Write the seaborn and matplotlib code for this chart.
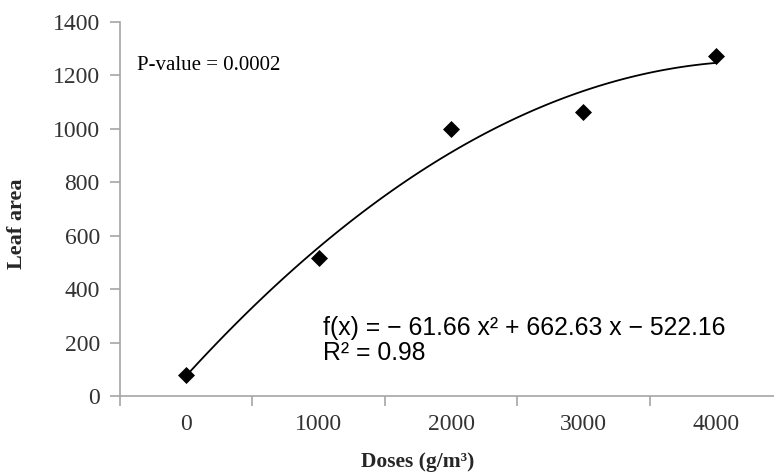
import numpy as np
import pandas as pd
import matplotlib
matplotlib.use("Agg")
import matplotlib.pyplot as plt
import seaborn as sns

# data
doses = ["0", "1000", "2000", "3000", "4000"]
position = [1, 2, 3, 4, 5]
leaf_area = [80, 518, 1000, 1062, 1272]
p_value_text = "P-value = 0.0002"
equation_text = "f(x) = \u2212 61.66 x\u00b2 + 662.63 x \u2212 522.16"
r2_text = "R\u00b2 = 0.98"

df = pd.DataFrame({"x": position, "area": leaf_area})

sns.set_style("white")
serif = ["Liberation Serif", "DejaVu Serif"]
sans = ["Liberation Sans", "DejaVu Sans"]
axis_grey = "#a6a6a6"

fig = plt.figure(figsize=(7.74, 4.75), dpi=100)
ax = fig.add_axes([120 / 774, 79 / 475, 662 / 774, 374 / 475])

# quadratic trend line
sns.regplot(data=df, x="x", y="area", order=2, ci=None, scatter=False,
            truncate=True, color="black", line_kws={"lw": 1.3}, ax=ax)
sns.scatterplot(data=df, x="x", y="area", marker="D", s=75, color="black",
                edgecolor="black", linewidth=0, zorder=3, ax=ax)

ax.set_xlim(0.5, 5.5)
ax.set_ylim(0, 1400)
ax.set_yticks(range(0, 1401, 200))
ax.set_xticks(position)
ax.set_xticklabels(doses)
ax.set_xticks([p - 0.5 for p in position] + [5.5], minor=True)

for s in ["top", "right"]:
    ax.spines[s].set_visible(False)
for s in ["left", "bottom"]:
    ax.spines[s].set_color(axis_grey)
    ax.spines[s].set_linewidth(1.2)

ax.tick_params(axis="y", which="major", left=True, length=7, width=1.2,
               color=axis_grey, pad=7.5, labelsize=17, labelcolor="#333333")
ax.tick_params(axis="x", which="major", bottom=False, length=0, pad=13,
               labelsize=17, labelcolor="#333333")
ax.tick_params(axis="x", which="minor", bottom=True, length=7, width=1.2,
               color=axis_grey)
for lab in ax.get_xticklabels() + ax.get_yticklabels():
    lab.set_family(serif)

ax.set_xlabel("Doses (g/m\u00b3)", family=serif, fontweight="bold", fontsize=15.5)
ax.set_ylabel("Leaf area", family=serif, fontweight="bold", fontsize=16)
ax.xaxis.set_label_coords(0.45, -0.15)
ax.yaxis.set_label_coords(-0.14, 0.46)

ax.text(0.63, 1239, p_value_text, family=serif, fontsize=15, va="center",
        ha="left", color="black")
ax.text(2.03, 256, equation_text, family=sans, fontsize=17.8, va="center",
        ha="left", color="black")
ax.text(2.03, 161, r2_text, family=sans, fontsize=17.8, va="center",
        ha="left", color="black")

fig.savefig("out.png", dpi=100)
